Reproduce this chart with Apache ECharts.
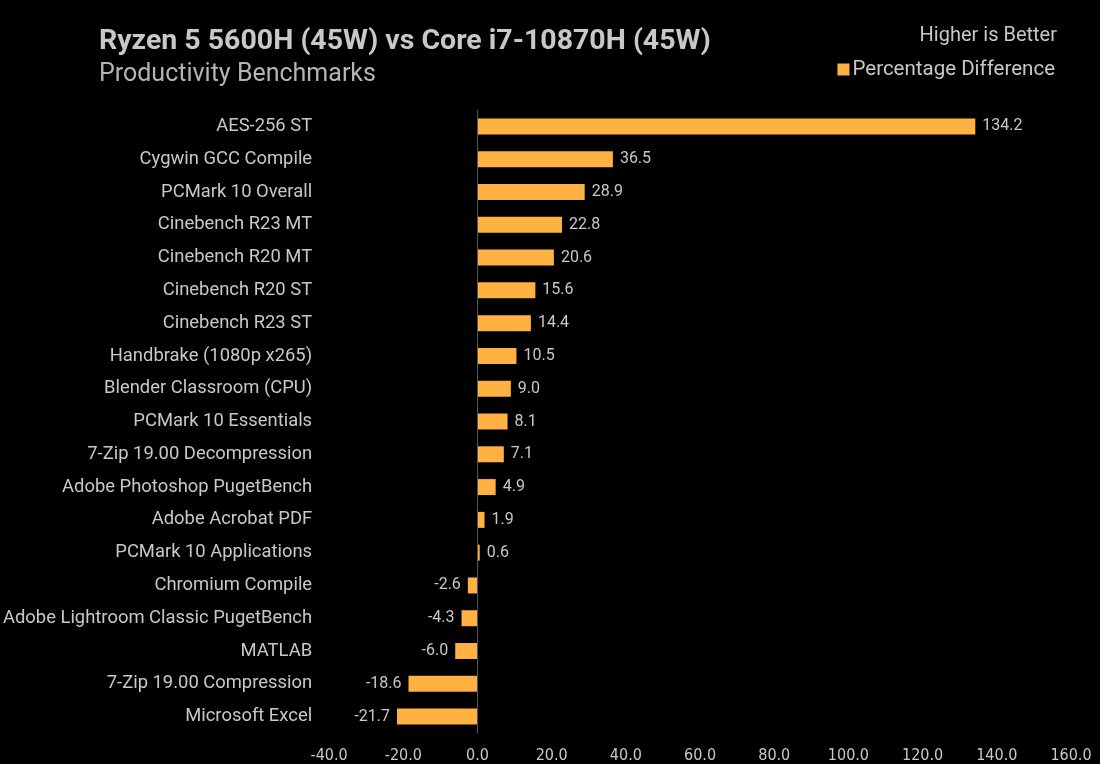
<!DOCTYPE html>
<html><head><meta charset="utf-8">
<script src="https://cdn.jsdelivr.net/npm/echarts@6/dist/echarts.min.js"></script>
<style>html,body{margin:0;padding:0;background:#000;}#c{width:1100px;height:764px;}</style>
</head><body><div id="c"></div>
<script>
var categories = ["AES-256 ST","Cygwin GCC Compile","PCMark 10 Overall","Cinebench R23 MT","Cinebench R20 MT","Cinebench R20 ST","Cinebench R23 ST","Handbrake (1080p x265)","Blender Classroom (CPU)","PCMark 10 Essentials","7-Zip 19.00 Decompression","Adobe Photoshop PugetBench","Adobe Acrobat PDF","PCMark 10 Applications","Chromium Compile","Adobe Lightroom Classic PugetBench","MATLAB","7-Zip 19.00 Compression","Microsoft Excel"];
var values = [134.2,36.5,28.9,22.8,20.6,15.6,14.4,10.5,9.0,8.1,7.1,4.9,1.9,0.6,-2.6,-4.3,-6.0,-18.6,-21.7];
var seriesName = "Percentage Difference";
var titleText = "Ryzen 5 5600H (45W) vs Core i7-10870H (45W)";
var subtitleText = "Productivity Benchmarks";
var noteText = "Higher is Better";

var chart = echarts.init(document.getElementById('c'));
var txt = '#c8c8c8';
var barData = values.map(function(v){
  return {value: v, label: {position: v < 0 ? 'left' : 'right'}};
});
chart.setOption({
  backgroundColor: '#000',
  animation: false,
  title: {
    text: titleText, subtext: subtitleText, left: 94, top: 22, itemGap: 6,
    textStyle: {color: txt, fontFamily: 'Roboto', fontWeight: 'bold', fontSize: 28.5},
    subtextStyle: {color: '#b4b4b4', fontFamily: 'Roboto', fontSize: 25}
  },
  graphic: [{
    type: 'text', right: 43, top: 26,
    style: {text: noteText, fill: txt, font: '20px Roboto'}
  }],
  legend: {
    data: [seriesName], right: 40, top: 54, itemWidth: 12, itemHeight: 12, icon: 'rect', itemGap: 4,
    textStyle: {color: txt, fontFamily: 'Roboto', fontSize: 20.5, padding: [0,0,0,-2]}
  },
  grid: {left: 328, right: 29, top: 110, bottom: 31, containLabel: false},
  xAxis: {
    type: 'value', min: -40, max: 160, interval: 20,
    axisLine: {show: false}, axisTick: {show: false}, splitLine: {show: false},
    axisLabel: {color: txt, fontSize: 16, margin: 15, fontFamily: "'Liberation Sans Narrow','DejaVu Sans Condensed','Roboto'",
      formatter: function(v){ return v.toFixed(1); }}
  },
  yAxis: {
    type: 'category', data: categories, inverse: true,
    axisLine: {show: false, onZero: false}, axisTick: {show: false},
    axisLabel: {color: txt, fontSize: 18.4, fontFamily: 'Roboto', margin: 17}
  },
  series: [{
    name: seriesName, type: 'bar', data: barData, barWidth: 16,
    itemStyle: {color: '#FFB142'},
    label: {show: true, position: 'right', distance: 7, color: txt, fontSize: 16, fontFamily: 'Roboto',
      formatter: function(p){ return p.value.toFixed(1); }},
    markLine: {silent: true, symbol: 'none', label: {show: false},
      lineStyle: {color: '#555', type: 'solid', width: 1},
      data: [{xAxis: 0}]}
  }]
});
</script></body></html>
